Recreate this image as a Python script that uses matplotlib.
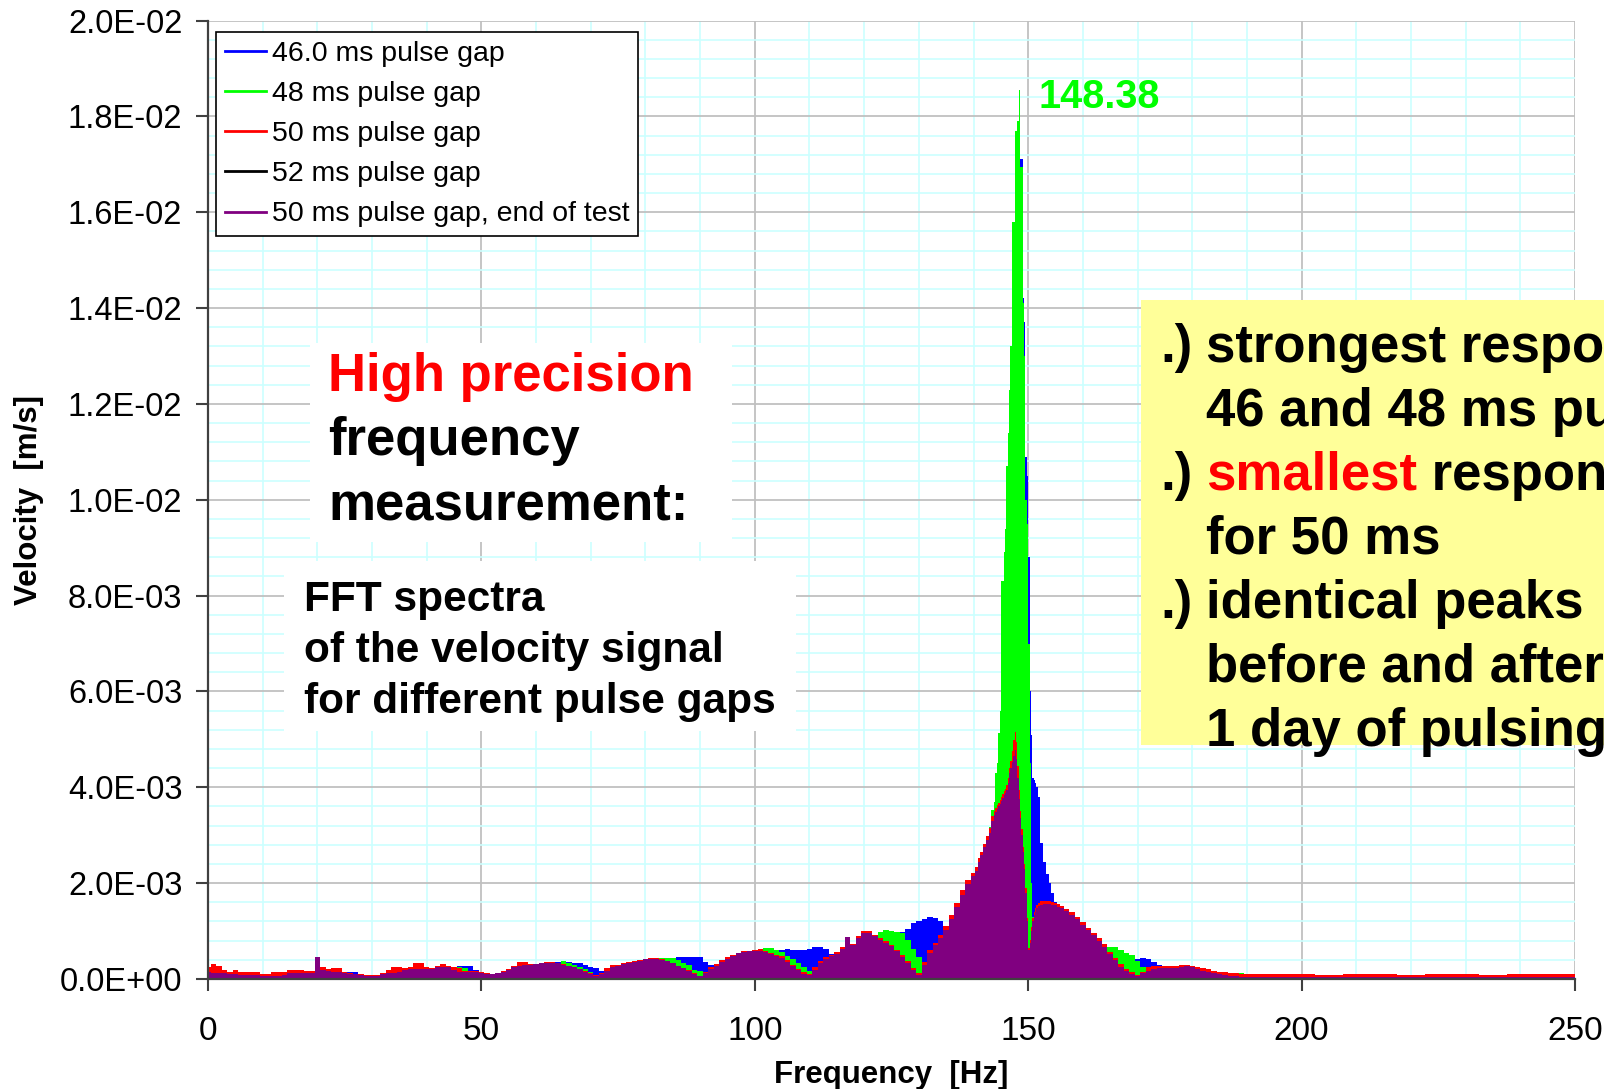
import numpy as np
import matplotlib
matplotlib.use("Agg")
import matplotlib.pyplot as plt
from matplotlib.lines import Line2D
from matplotlib.patches import Rectangle
from matplotlib.ticker import MultipleLocator, FuncFormatter

plt.rcParams['font.family'] = ['Liberation Sans', 'DejaVu Sans']

# FFT bin centres [Hz]: 1 Hz up to 140, finer around the resonance, coarse in the tail
freq = np.concatenate([
    np.arange(0, 140, 1.0),
    np.arange(140, 144, 0.5),
    np.round(np.arange(143.88, 151.9, 0.25), 2),
    np.arange(152.5, 156, 0.5),
    np.arange(156, 190, 1.0),
    np.arange(190, 251, 5.0),
])

# velocity amplitudes in 1e-3 m/s
blue_46 = [
    0.13, 0.12, 0.12, 0.11, 0.10, 0.10, 0.08, 0.08, 0.08, 0.08,
    0.07, 0.07, 0.07, 0.07, 0.08, 0.11, 0.12, 0.12, 0.12, 0.12,
    0.18, 0.18, 0.17, 0.16, 0.15, 0.13, 0.15, 0.15, 0.09, 0.07,
    0.06, 0.06, 0.10, 0.12, 0.13, 0.14, 0.18, 0.20, 0.20, 0.21,
    0.21, 0.23, 0.26, 0.26, 0.25, 0.26, 0.27, 0.27, 0.27, 0.18,
    0.12, 0.10, 0.10, 0.12, 0.15, 0.19, 0.24, 0.27, 0.29, 0.30,
    0.31, 0.33, 0.34, 0.36, 0.36, 0.36, 0.35, 0.34, 0.33, 0.30,
    0.26, 0.22, 0.17, 0.16, 0.24, 0.28, 0.32, 0.34, 0.36, 0.38,
    0.41, 0.42, 0.42, 0.41, 0.41, 0.42, 0.45, 0.45, 0.45, 0.45,
    0.45, 0.35, 0.30, 0.28, 0.35, 0.42, 0.49, 0.54, 0.57, 0.58,
    0.58, 0.60, 0.62, 0.62, 0.61, 0.60, 0.62, 0.60, 0.60, 0.60,
    0.62, 0.67, 0.67, 0.63, 0.52, 0.50, 0.60, 0.70, 0.70, 0.85,
    0.92, 0.94, 0.90, 0.95, 0.98, 0.98, 0.98, 0.99, 1.05, 1.16,
    1.22, 1.25, 1.30, 1.27, 1.22, 1.10, 1.15, 1.45, 1.70, 1.90,
    # 140 - 143.5 Hz
    2.05, 2.15, 2.35, 2.45, 2.65, 2.80, 3.00, 3.30,
    # 143.88 - 151.88 Hz
    3.40, 3.70, 4.00, 4.50, 5.00, 6.00, 6.50, 7.00, 7.50, 8.20,
    9.00, 10.0, 11.5, 13.0, 14.5, 16.0, 16.3, 16.5, 16.7, 17.1,
    17.1, 14.2, 13.7, 10.9, 10.5, 8.80, 6.00, 5.10, 4.20, 4.15,
    4.10, 4.00, 3.80,
    # 152.5 - 155.5 Hz
    2.83, 2.45, 2.20, 2.00, 1.79, 1.60, 1.52,
    # 156 - 189 Hz
    1.45, 1.38, 1.30, 1.22, 1.10, 1.00, 0.90, 0.78, 0.66, 0.60,
    0.58, 0.55, 0.50, 0.45, 0.41, 0.43, 0.41, 0.36, 0.30, 0.25,
    0.20, 0.18, 0.16, 0.15, 0.15, 0.14, 0.13, 0.12, 0.11, 0.10,
    0.09, 0.08, 0.07, 0.06,
    # 190 - 250 Hz
    0.05, 0.05, 0.05, 0.05, 0.05, 0.05, 0.05, 0.05, 0.05, 0.05, 0.05, 0.05, 0.05,
]

green_48 = [
    0.13, 0.12, 0.12, 0.11, 0.10, 0.10, 0.08, 0.08, 0.08, 0.08,
    0.07, 0.07, 0.07, 0.07, 0.08, 0.11, 0.12, 0.12, 0.12, 0.12,
    0.18, 0.18, 0.20, 0.16, 0.15, 0.13, 0.12, 0.11, 0.09, 0.07,
    0.06, 0.06, 0.10, 0.12, 0.13, 0.14, 0.18, 0.20, 0.20, 0.21,
    0.21, 0.23, 0.26, 0.26, 0.25, 0.24, 0.24, 0.23, 0.16, 0.15,
    0.12, 0.10, 0.10, 0.12, 0.15, 0.19, 0.24, 0.27, 0.29, 0.30,
    0.31, 0.33, 0.34, 0.34, 0.34, 0.38, 0.33, 0.29, 0.25, 0.20,
    0.14, 0.08, 0.10, 0.16, 0.24, 0.28, 0.32, 0.34, 0.36, 0.38,
    0.41, 0.42, 0.42, 0.43, 0.43, 0.43, 0.40, 0.33, 0.30, 0.19,
    0.17, 0.14, 0.20, 0.28, 0.35, 0.42, 0.49, 0.54, 0.57, 0.58,
    0.58, 0.63, 0.64, 0.64, 0.61, 0.56, 0.49, 0.41, 0.33, 0.25,
    0.16, 0.12, 0.30, 0.42, 0.47, 0.53, 0.63, 0.70, 0.70, 0.85,
    0.92, 0.94, 0.92, 0.98, 1.02, 1.00, 0.99, 0.95, 0.82, 0.62,
    0.45, 0.30, 0.15, 0.60, 0.80, 1.00, 1.20, 1.45, 1.70, 1.90,
    # 140 - 143.5 Hz
    2.10, 2.20, 2.40, 2.50, 2.70, 2.85, 3.18, 3.53,
    # 143.88 - 151.88 Hz
    3.70, 4.29, 4.50, 5.13, 5.60, 8.30, 8.30, 8.90, 9.40, 10.7,
    11.4, 12.3, 13.2, 15.8, 15.8, 17.7, 17.7, 17.9, 18.55, 16.95,
    16.95, 14.1, 13.0, 10.0, 9.50, 7.00, 4.50, 2.00, 1.30, 1.20,
    1.25, 1.30, 1.30,
    # 152.5 - 155.5 Hz
    1.30, 1.30, 1.35, 1.35, 1.35, 1.35, 1.35,
    # 156 - 189 Hz
    1.35, 1.30, 1.25, 1.15, 1.05, 0.95, 0.85, 0.75, 0.70, 0.66,
    0.67, 0.60, 0.54, 0.50, 0.38, 0.25, 0.17, 0.15, 0.15, 0.15,
    0.15, 0.15, 0.15, 0.15, 0.15, 0.14, 0.13, 0.13, 0.13, 0.12,
    0.12, 0.12, 0.12, 0.12,
    # 190 - 250 Hz
    0.06, 0.05, 0.05, 0.05, 0.05, 0.05, 0.05, 0.05, 0.05, 0.05, 0.05, 0.05, 0.05,
]

red_50 = [
    0.24, 0.31, 0.28, 0.18, 0.14, 0.19, 0.14, 0.14, 0.14, 0.14,
    0.11, 0.11, 0.15, 0.15, 0.14, 0.19, 0.19, 0.18, 0.17, 0.17,
    0.24, 0.24, 0.20, 0.22, 0.22, 0.15, 0.13, 0.11, 0.10, 0.09,
    0.08, 0.08, 0.12, 0.19, 0.25, 0.26, 0.23, 0.24, 0.34, 0.34,
    0.24, 0.22, 0.28, 0.31, 0.27, 0.26, 0.22, 0.17, 0.17, 0.17,
    0.15, 0.12, 0.11, 0.13, 0.17, 0.21, 0.27, 0.36, 0.36, 0.32,
    0.32, 0.34, 0.35, 0.35, 0.34, 0.31, 0.28, 0.25, 0.21, 0.17,
    0.12, 0.08, 0.12, 0.22, 0.29, 0.30, 0.33, 0.35, 0.37, 0.39,
    0.42, 0.43, 0.43, 0.41, 0.38, 0.34, 0.28, 0.23, 0.18, 0.12,
    0.07, 0.14, 0.24, 0.32, 0.40, 0.45, 0.51, 0.55, 0.58, 0.59,
    0.60, 0.62, 0.58, 0.55, 0.51, 0.47, 0.40, 0.30, 0.21, 0.14,
    0.10, 0.25, 0.38, 0.46, 0.50, 0.56, 0.66, 0.88, 0.73, 0.90,
    1.00, 1.00, 0.92, 0.86, 0.79, 0.71, 0.61, 0.50, 0.37, 0.22,
    0.12, 0.36, 0.60, 0.75, 0.92, 1.10, 1.33, 1.58, 1.85, 2.06,
    # 140 - 143.5 Hz
    2.22, 2.33, 2.52, 2.65, 2.82, 2.98, 3.15, 3.40,
    # 143.88 - 151.88 Hz
    3.50, 3.56, 3.63, 3.68, 3.74, 3.80, 3.86, 3.92, 3.96, 4.04,
    4.20, 4.40, 4.55, 4.75, 4.98, 5.16, 4.95, 4.45, 3.95, 3.50,
    3.12, 2.75, 2.40, 1.90, 1.28, 0.65, 0.82, 1.08, 1.28, 1.40,
    1.48, 1.55, 1.59,
    # 152.5 - 155.5 Hz
    1.62, 1.63, 1.63, 1.62, 1.61, 1.59, 1.56,
    # 156 - 189 Hz
    1.53, 1.47, 1.39, 1.30, 1.18, 1.07, 0.97, 0.85, 0.72, 0.57,
    0.44, 0.31, 0.21, 0.14, 0.09, 0.15, 0.24, 0.27, 0.28, 0.28,
    0.27, 0.27, 0.29, 0.30, 0.28, 0.25, 0.22, 0.21, 0.16, 0.14,
    0.14, 0.13, 0.12, 0.11,
    # 190 - 250 Hz
    0.11, 0.10, 0.10, 0.09, 0.10, 0.10, 0.09, 0.10, 0.10, 0.09, 0.10, 0.10, 0.10,
]

purple_50_end = [
    0.14, 0.12, 0.12, 0.12, 0.10, 0.10, 0.08, 0.08, 0.08, 0.08,
    0.07, 0.07, 0.07, 0.07, 0.08, 0.12, 0.12, 0.12, 0.12, 0.12,
    0.45, 0.19, 0.17, 0.15, 0.15, 0.13, 0.11, 0.11, 0.09, 0.06,
    0.06, 0.06, 0.10, 0.12, 0.12, 0.14, 0.18, 0.20, 0.20, 0.20,
    0.20, 0.20, 0.24, 0.26, 0.24, 0.18, 0.15, 0.15, 0.15, 0.15,
    0.12, 0.10, 0.10, 0.12, 0.15, 0.19, 0.24, 0.27, 0.29, 0.30,
    0.31, 0.33, 0.34, 0.34, 0.33, 0.30, 0.27, 0.24, 0.20, 0.15,
    0.10, 0.07, 0.10, 0.16, 0.24, 0.28, 0.32, 0.34, 0.36, 0.38,
    0.41, 0.42, 0.42, 0.40, 0.37, 0.33, 0.27, 0.22, 0.17, 0.10,
    0.06, 0.12, 0.20, 0.28, 0.35, 0.42, 0.49, 0.54, 0.57, 0.58,
    0.58, 0.58, 0.56, 0.53, 0.49, 0.44, 0.36, 0.27, 0.18, 0.11,
    0.08, 0.18, 0.33, 0.42, 0.47, 0.53, 0.63, 0.88, 0.70, 0.85,
    0.97, 0.97, 0.90, 0.82, 0.76, 0.68, 0.58, 0.46, 0.33, 0.18,
    0.08, 0.30, 0.55, 0.70, 0.85, 1.02, 1.25, 1.50, 1.75, 1.98,
    # 140 - 143.5 Hz
    2.15, 2.25, 2.45, 2.58, 2.75, 2.90, 3.05, 3.30,
    # 143.88 - 151.88 Hz
    3.42, 3.48, 3.55, 3.60, 3.66, 3.72, 3.78, 3.84, 3.88, 3.95,
    4.10, 4.29, 4.40, 4.52, 4.65, 4.78, 4.60, 4.20, 3.75, 3.35,
    3.00, 2.65, 2.30, 1.80, 1.20, 0.60, 0.75, 1.00, 1.20, 1.33,
    1.40, 1.48, 1.52,
    # 152.5 - 155.5 Hz
    1.55, 1.57, 1.57, 1.56, 1.55, 1.54, 1.51,
    # 156 - 189 Hz
    1.48, 1.42, 1.34, 1.25, 1.13, 1.02, 0.92, 0.80, 0.67, 0.52,
    0.39, 0.26, 0.16, 0.10, 0.06, 0.12, 0.17, 0.20, 0.22, 0.22,
    0.23, 0.22, 0.24, 0.28, 0.24, 0.20, 0.17, 0.15, 0.12, 0.10,
    0.08, 0.07, 0.06, 0.05,
    # 190 - 250 Hz
    0.05, 0.04, 0.04, 0.04, 0.04, 0.04, 0.04, 0.04, 0.04, 0.04, 0.05, 0.04, 0.04,
]

series_labels = ["46.0 ms pulse gap", "48 ms pulse gap", "50 ms pulse gap",
                 "52 ms pulse gap", "50 ms pulse gap, end of test"]
series_colors = ["#0000FF", "#00FF00", "#FF0000", "#000000", "#800080"]

W, H = 1604, 1089
fig = plt.figure(figsize=(W / 100, H / 100), dpi=100)
ax = fig.add_axes([208 / W, 1 - 979 / H, 1367 / W, 958.5 / H])

# areas stacked back to front in legend order
for vals, col in [(blue_46, "#0000FF"), (green_48, "#00FF00"),
                  (red_50, "#FF0000"), (purple_50_end, "#800080")]:
    ax.fill_between(freq, 0, np.array(vals) * 1e-3, step="mid",
                    color=col, linewidth=0, zorder=2)

ax.set_xlim(0, 250)
ax.set_ylim(0, 0.02)
ax.xaxis.set_major_locator(MultipleLocator(50))
ax.xaxis.set_minor_locator(MultipleLocator(10))
ax.yaxis.set_major_locator(MultipleLocator(0.002))
ax.yaxis.set_minor_locator(MultipleLocator(0.0004))
ax.yaxis.set_major_formatter(FuncFormatter(lambda v, p: f"{v:.1E}"))
ax.set_axisbelow(True)
ax.grid(which="minor", color="#CCFFFF", linewidth=1.2)
ax.grid(which="major", color="#C0C0C0", linewidth=1.3)

ax.tick_params(which="major", direction="out", length=8.5, width=1.5,
               color="#404040")
ax.tick_params(axis="x", which="major", pad=18.5, labelsize=24)
ax.tick_params(axis="y", which="major", pad=10, labelsize=23.5)
ax.tick_params(which="minor", length=0)
for side in ["top", "right"]:
    ax.spines[side].set_visible(False)
for side in ["left", "bottom"]:
    ax.spines[side].set_color("#404040")
    ax.spines[side].set_linewidth(1.6)

ax.set_xlabel("Frequency  [Hz]", fontsize=22.5, fontweight="bold")
ax.xaxis.set_label_coords(0.5, -(1075 - 979) / 958.5)
ax.xaxis.label.set_verticalalignment("center")
ax.set_ylabel("Velocity  [m/s]", fontsize=22.5, fontweight="bold")
ax.yaxis.set_label_coords((29 - 208) / 1367, 0.5)
ax.yaxis.label.set_verticalalignment("center")

handles = [Line2D([], [], color=c, linewidth=2) for c in series_colors]
leg = ax.legend(handles, series_labels, loc="upper left",
                bbox_to_anchor=(8 / 1367, (979 - 32) / 958.5), borderaxespad=0,
                fontsize=20.5, fancybox=False, framealpha=1, edgecolor="black",
                borderpad=0.3, labelspacing=0.5, handlelength=1.45,
                handletextpad=0.2)
leg.get_frame().set_linewidth(1.2)
leg.set_zorder(5)

# resonance peak label
ipk = int(np.argmax(green_48))
ax.text(freq[ipk] + 3.42, green_48[ipk] * 1e-3 - 0.37e-3, f"{freq[ipk]:.2f}",
        color="#00FF00", fontsize=28.5, fontweight="bold", va="baseline", zorder=6)


def box(x0, y0, x1, y1, color):
    fig.add_artist(Rectangle((x0 / W, 1 - y1 / H), (x1 - x0) / W, (y1 - y0) / H,
                             transform=fig.transFigure, facecolor=color,
                             edgecolor="none", zorder=3))


def label(x, y, s, size, color="black"):
    return fig.text(x / W, 1 - y / H, s, fontsize=size, fontweight="bold",
                    color=color, ha="left", va="baseline", zorder=4)


box(310, 343, 732, 542, "white")
label(328, 391, "High precision", 38, "#FF0000")
label(328, 455, "frequency", 38)
label(328, 520, "measurement:", 38)

box(284, 561, 796, 731, "white")
label(304, 611, "FFT spectra", 30.5)
label(304, 662, "of the velocity signal", 30.5)
label(304, 713, "for different pulse gaps", 30.5)

box(1141, 300, 1620, 745, "#FFFF99")
label(1160, 362, ".)", 38)
label(1206, 362, "strongest response for", 38)
label(1206, 426, "46 and 48 ms pulse gaps", 38)
label(1160, 490, ".)", 38)
t_small = label(1206, 490, "smallest", 38, "#FF0000")
label(1206, 554, "for 50 ms", 38)
label(1160, 618, ".)", 38)
label(1206, 618, "identical peaks", 38)
label(1206, 682, "before and after", 38)
label(1206, 746, "1 day of pulsing", 38)

bb = t_small.get_window_extent(renderer=fig.canvas.get_renderer())
label(bb.x1, 490, " response", 38)

fig.savefig("out.png", dpi=100)
